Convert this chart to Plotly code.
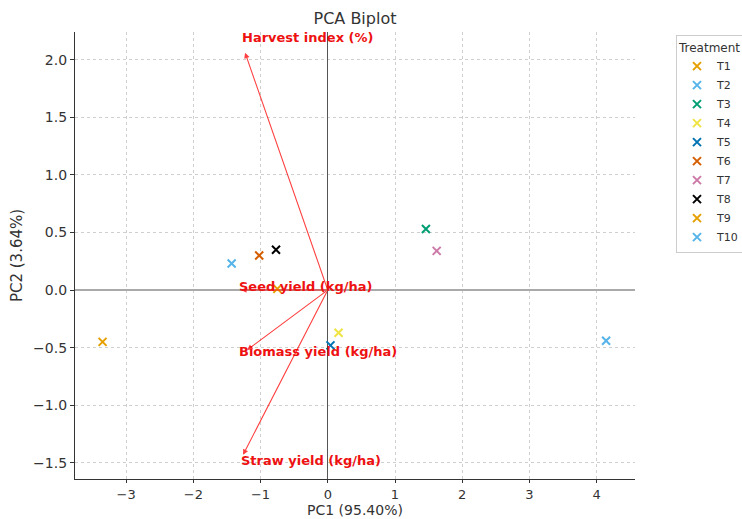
import plotly.graph_objects as go

# Treatment scores on the first two principal components
treatments = ["T1", "T2", "T3", "T4", "T5", "T6", "T7", "T8", "T9", "T10"]
pc1_scores = [-3.35, 4.14, 1.46, 0.16, 0.04, -1.02, 1.62, -0.77, -0.75, -1.43]
pc2_scores = [-0.45, -0.44, 0.53, -0.37, -0.48, 0.30, 0.34, 0.35, 0.01, 0.23]
treatment_colors = ["#E69F00", "#56B4E9", "#009E73", "#F0E442", "#0072B2",
                    "#D55E00", "#CC79A7", "#000000", "#E69F00", "#56B4E9"]

# Variable loadings (scaled) and where their names are written
variables = ["Harvest index (%)", "Seed yield (kg/ha)",
             "Biomass yield (kg/ha)", "Straw yield (kg/ha)"]
loading_pc1 = [-1.23, -1.29, -1.20, -1.26]
loading_pc2 = [2.06, 0.00, -0.52, -1.43]
label_pc1 = [-1.31, -1.35, -1.35, -1.32]
label_pc2 = [2.19, 0.03, -0.53, -1.48]

x_ticks = [-3, -2, -1, 0, 1, 2, 3, 4]
y_ticks = [-1.5, -1.0, -0.5, 0.0, 0.5, 1.0, 1.5, 2.0]

FONT = "DejaVu Sans"
TEXT = "#333333"
W, H = 742, 519

fig = go.Figure()

for name, px, py, col in zip(treatments, pc1_scores, pc2_scores, treatment_colors):
    fig.add_trace(go.Scatter(
        x=[px], y=[py], mode="markers", name=name,
        marker=dict(symbol="x-thin", size=8, color=col,
                    line=dict(width=2, color=col)),
    ))

annotations = []
for var, lx, ly, tx, ty in zip(variables, loading_pc1, loading_pc2, label_pc1, label_pc2):
    annotations.append(dict(
        x=lx, y=ly, xref="x", yref="y", ax=0, ay=0, axref="x", ayref="y",
        text="", showarrow=True, arrowhead=2, arrowsize=1, arrowwidth=1.1,
        arrowcolor="rgba(255,0,0,0.75)", standoff=0,
    ))
    annotations.append(dict(
        x=tx, y=ty, xref="x", yref="y", text="<b>" + var + "</b>",
        showarrow=False, xanchor="left", yanchor="middle",
        font=dict(family=FONT, size=13, color="#ee1111"),
    ))

axis_common = dict(
    showline=True, linecolor=TEXT, linewidth=1.2, mirror=False,
    ticks="outside", ticklen=4, tickcolor=TEXT, tickwidth=1,
    tickfont=dict(family=FONT, size=14, color=TEXT),
    showgrid=True, gridcolor="#cfcfcf", griddash="dot", gridwidth=1,
    zeroline=True, automargin=False,
)

fig.update_layout(
    width=W, height=H, autosize=False,
    margin=dict(l=75, r=107, t=32, b=40, pad=0),
    paper_bgcolor="white", plot_bgcolor="white",
    font=dict(family=FONT, color=TEXT),
    title=dict(text="PCA Biplot", x=0.5, xref="paper", xanchor="center",
               y=1 - 18 / H, yref="container", yanchor="middle",
               font=dict(family=FONT, size=16, color=TEXT)),
    xaxis=dict(axis_common, range=[-3.76, 4.57], tickvals=x_ticks,
               ticklen=3, tickfont=dict(family=FONT, size=13, color=TEXT),
               zerolinecolor="#555555", zerolinewidth=1,
               title=dict(text="PC1 (95.40%)", standoff=1,
                          font=dict(family=FONT, size=14, color=TEXT))),
    yaxis=dict(axis_common, range=[-1.64, 2.24], tickvals=y_ticks,
               tickformat=".1f",
               zerolinecolor="#aaaaaa", zerolinewidth=2,
               title=dict(text="PC2 (3.64%)", standoff=6,
                          font=dict(family=FONT, size=15, color=TEXT))),
    legend=dict(
        title=dict(text="Treatment", font=dict(family=FONT, size=12, color=TEXT)),
        font=dict(family=FONT, size=11, color=TEXT),
        xref="container", yref="container",
        x=676 / W, xanchor="left", y=1 - 35 / H, yanchor="top",
        bordercolor="#cccccc", borderwidth=1, bgcolor="white",
    ),
    annotations=annotations,
    showlegend=True,
)

fig.write_html("out.html")
